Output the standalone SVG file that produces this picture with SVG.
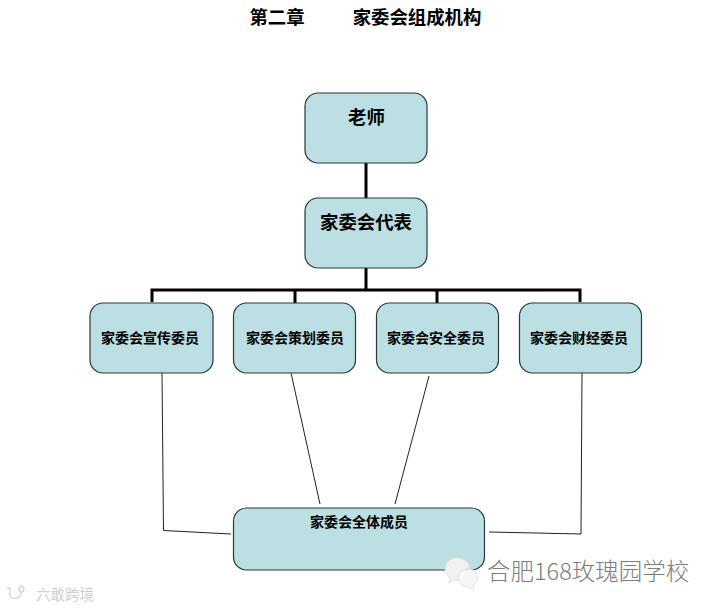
<svg xmlns="http://www.w3.org/2000/svg" width="709" height="608" viewBox="0 0 709 608">
<style>
text{font-family:"Noto Sans CJK SC","Liberation Sans",sans-serif;text-anchor:middle;fill:#000;font-weight:700}
.box{fill:#bbdfe3;stroke:#27383e;stroke-width:1.2}
.t{font-size:18.4px}
.s{font-size:14px}
.thick{fill:none;stroke:#000;stroke-width:3}
.thin{fill:none;stroke:#222;stroke-width:1}
.wm{fill:#7d7d7d;font-weight:300;text-anchor:start}
</style>
<rect width="709" height="608" fill="#fff"/>
<text id="title1" x="277" y="24" class="t">第二章</text>
<text id="title2" x="417" y="24" class="t">家委会组成机构</text>
<g id="connectors">
<path class="thick" d="M366 163V198M366 268V290M152 302V290H580V302M295 290V303M437 290V303"/>
<path class="thin" d="M162 373L163.500 530.500L231 534M291 373L320 504M429 376L395 504M582 373L581 534L489 532"/>
</g>
<g id="n-teacher"><rect class="box" x="305" y="93" width="122" height="70" rx="13"/><text class="t" x="366.500" y="124">老师</text></g>
<g id="n-rep"><rect class="box" x="305" y="198" width="122" height="70" rx="13"/><text class="t" x="366" y="229">家委会代表</text></g>
<g id="n-publicity"><rect class="box" x="90" y="303" width="123" height="70" rx="13"/><text class="s" x="150" y="343">家委会宣传委员</text></g>
<g id="n-planning"><rect class="box" x="233.500" y="303" width="122" height="70" rx="13"/><text class="s" x="295" y="343">家委会策划委员</text></g>
<g id="n-safety"><rect class="box" x="376.500" y="303" width="122" height="70" rx="13"/><text class="s" x="436" y="343">家委会安全委员</text></g>
<g id="n-finance"><rect class="box" x="519.500" y="303" width="122" height="70" rx="13"/><text class="s" x="579" y="343">家委会财经委员</text></g>
<g id="n-all"><rect class="box" x="233.500" y="508" width="251" height="62" rx="13"/><text class="s" x="359" y="527">家委会全体成员</text></g>
<g id="watermark">
<path d="M457 558c-7 0-12 5-12 11 0 4 2 7 5 9l-1 5 5-3c2 .5 3 .7 5 .5-1-6 4-12 11-13-1-5-6-9.500-13-9.500z" fill="#f1f1f1" stroke="#ddd" stroke-width=".8"/>
<path d="M469 569c-6 0-11 4-11 9s5 9 11 9l5 3-1-5c3-2 5-4 5-7 0-5-4-9-9-9z" fill="#f6f6f6" stroke="#ddd" stroke-width=".8"/>
<text class="wm" x="487" y="580" style="font-size:23.500px">合肥168玫瑰园学校</text>
<path d="M7 588l3 0 0 9c3 2 7 2 10-1 2-3 1-6-2-6M21 586c3 0 4 5 1 6s-4-5-1-6z" fill="none" stroke="#d8d8d8" stroke-width="1.500"/>
<text x="36" y="600" style="font-size:14.500px;fill:#cfcfcf;font-weight:400;text-anchor:start">六敢跨境</text>
</g>
</svg>
